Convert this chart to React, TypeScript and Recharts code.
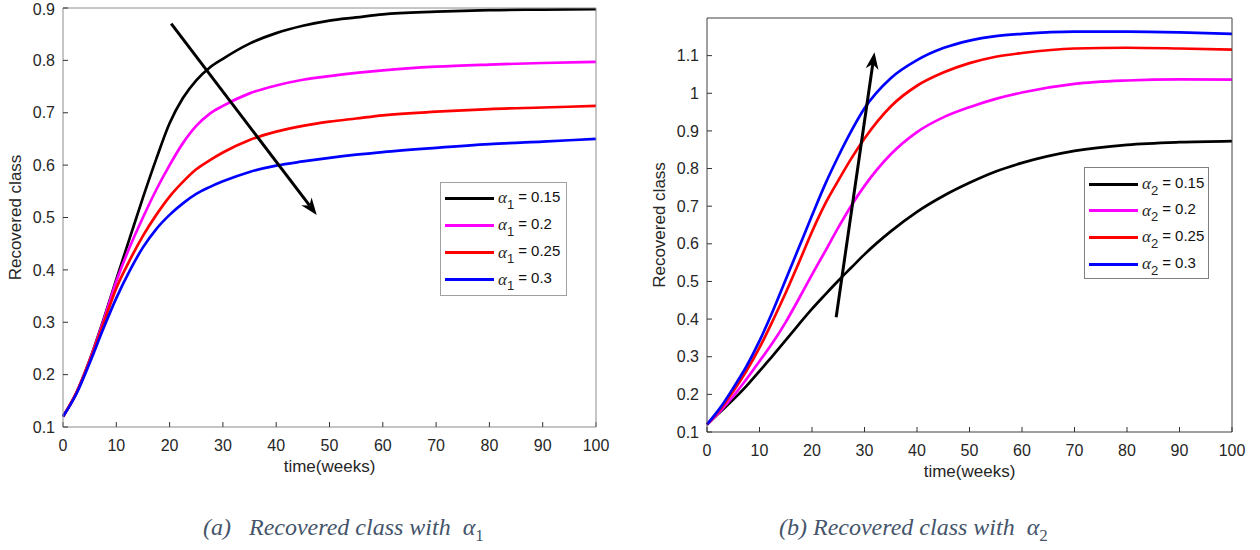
import React from "react"
import { LineChart, Line, XAxis, YAxis, ReferenceLine, Legend } from "recharts"

// time points (weeks)
const weeks = [0, 2.5, 5, 7.5, 10, 12.5, 15, 17.5, 20, 22.5, 25, 27.5, 30, 35, 40, 45, 50, 55, 60, 70, 80, 90, 100]

// panel (a): varying alpha_1
const alpha1Labels = ["0.15", "0.2", "0.25", "0.3"]
const a1_015 = [0.12, 0.165, 0.228, 0.302, 0.382, 0.46, 0.538, 0.612, 0.68, 0.728, 0.762, 0.786, 0.803, 0.832, 0.852, 0.866, 0.876, 0.882, 0.888, 0.893, 0.896, 0.897, 0.898]
const a1_020 = [0.12, 0.165, 0.227, 0.3, 0.378, 0.443, 0.5, 0.553, 0.6, 0.642, 0.675, 0.698, 0.713, 0.737, 0.752, 0.763, 0.77, 0.776, 0.781, 0.788, 0.792, 0.795, 0.797]
const a1_025 = [0.12, 0.165, 0.226, 0.295, 0.365, 0.418, 0.465, 0.505, 0.54, 0.568, 0.592, 0.609, 0.624, 0.648, 0.664, 0.675, 0.683, 0.689, 0.695, 0.702, 0.707, 0.71, 0.713]
const a1_030 = [0.12, 0.163, 0.222, 0.286, 0.346, 0.398, 0.443, 0.478, 0.505, 0.527, 0.545, 0.558, 0.569, 0.587, 0.599, 0.607, 0.614, 0.62, 0.625, 0.633, 0.64, 0.645, 0.65]

// panel (b): varying alpha_2
const alpha2Labels = ["0.15", "0.2", "0.25", "0.3"]
const a2_015 = [0.12, 0.153, 0.186, 0.222, 0.262, 0.302, 0.344, 0.386, 0.427, 0.465, 0.502, 0.537, 0.572, 0.633, 0.685, 0.727, 0.762, 0.792, 0.815, 0.847, 0.863, 0.87, 0.873]
const a2_020 = [0.12, 0.155, 0.195, 0.24, 0.288, 0.337, 0.392, 0.454, 0.518, 0.58, 0.643, 0.702, 0.754, 0.838, 0.897, 0.936, 0.963, 0.985, 1.002, 1.025, 1.034, 1.037, 1.036]
const a2_025 = [0.12, 0.16, 0.208, 0.262, 0.324, 0.395, 0.47, 0.55, 0.632, 0.706, 0.768, 0.827, 0.88, 0.965, 1.02, 1.055, 1.08, 1.097, 1.107, 1.119, 1.121, 1.119, 1.116]
const a2_030 = [0.12, 0.164, 0.217, 0.274, 0.342, 0.42, 0.505, 0.59, 0.675, 0.758, 0.832, 0.9, 0.96, 1.04, 1.088, 1.12, 1.14, 1.152, 1.158, 1.164, 1.164, 1.162, 1.158]

const xTicks = [0, 10, 20, 30, 40, 50, 60, 70, 80, 90, 100]
const yTicksA = [0.1, 0.2, 0.3, 0.4, 0.5, 0.6, 0.7, 0.8, 0.9]
const yTicksB = [0.1, 0.2, 0.3, 0.4, 0.5, 0.6, 0.7, 0.8, 0.9, 1, 1.1]

// arrow annotations in data units [start, tip]
const arrowA = [{ x: 20.3, y: 0.87 }, { x: 47.6, y: 0.505 }]
const arrowB = [{ x: 24.6, y: 0.405 }, { x: 31.9, y: 1.109 }]

const seriesColors = ["#000000", "#ff00ff", "#ff0000", "#0000ff"]
const SANS = "'Liberation Sans', Arial, sans-serif"

type Row = { t: number; s0: number; s1: number; s2: number; s3: number }

function buildRows(s0: number[], s1: number[], s2: number[], s3: number[]): Row[] {
  return weeks.map((t, i) => ({ t, s0: s0[i], s1: s1[i], s2: s2[i], s3: s3[i] }))
}

const dataA = buildRows(a1_015, a1_020, a1_025, a1_030)
const dataB = buildRows(a2_015, a2_020, a2_025, a2_030)

const fmt = (v: number) => String(Number(v.toFixed(1)))

function ArrowShape(props: any) {
  const { x1, y1, x2, y2 } = props
  if (x1 == null || x2 == null) return null
  const dx = x2 - x1
  const dy = y2 - y1
  const len = Math.hypot(dx, dy)
  const ux = dx / len
  const uy = dy / len
  const nx = -uy
  const ny = ux
  const hl = 17
  const hw = 6.5
  const bx = x2 - ux * hl
  const by = y2 - uy * hl
  const kx = x2 - ux * hl * 0.7
  const ky = y2 - uy * hl * 0.7
  const pts = `${x2},${y2} ${bx + nx * hw},${by + ny * hw} ${kx},${ky} ${bx - nx * hw},${by - ny * hw}`
  return (
    <g>
      <line x1={x1} y1={y1} x2={kx} y2={ky} stroke="#000" strokeWidth={3} />
      <polygon points={pts} fill="#000" />
    </g>
  )
}

function YTitle({ viewBox, offsetX }: { viewBox?: any; offsetX: number }) {
  if (!viewBox) return null
  const x = viewBox.x + offsetX
  const y = viewBox.y + viewBox.height / 2
  return (
    <text x={x} y={y} transform={`rotate(-90 ${x} ${y})`} textAnchor="middle" dominantBaseline="middle"
      fontFamily={SANS} fontSize={17} fill="#262626">
      Recovered class
    </text>
  )
}

function XTitle({ viewBox, offsetY }: { viewBox?: any; offsetY: number }) {
  if (!viewBox) return null
  return (
    <text x={viewBox.x + viewBox.width / 2} y={viewBox.y + offsetY} textAnchor="middle"
      fontFamily={SANS} fontSize={17} fill="#262626">
      time(weeks)
    </text>
  )
}

function AlphaLegend({ payload, sub, border, rowTop, rowGap, width, height }: any) {
  return (
    <div style={{ position: "relative", width, height, border: `1px solid ${border}`, background: "#fff", boxSizing: "border-box" }}>
      {(payload || []).map((p: any, i: number) => (
        <div key={i} style={{ position: "absolute", left: 4, top: rowTop + i * rowGap - 10, height: 20, display: "flex", alignItems: "center", whiteSpace: "nowrap" }}>
          <span style={{ display: "inline-block", width: 49, height: 3, background: p.color }} />
          <span style={{ marginLeft: 4, fontFamily: "'Liberation Serif', serif", fontStyle: "italic", fontSize: 17, color: "#262626" }}>α</span>
          <span style={{ fontFamily: SANS, fontSize: 13, color: "#262626", position: "relative", top: 6 }}>{sub}</span>
          <span style={{ fontFamily: SANS, fontSize: 15, color: "#111", marginLeft: 4, position: "relative", top: -2 }}>= {p.value}</span>
        </div>
      ))}
    </div>
  )
}

type PanelProps = {
  left: number
  width: number
  data: Row[]
  labels: string[]
  sub: string
  yDomain: [number, number]
  yTicks: number[]
  margin: { top: number; right: number; bottom: number; left: number }
  yAxisWidth: number
  axisColor: string
  arrow: { x: number; y: number }[]
  legendPos: { left: number; top: number; width: number; height: number; rowTop: number; rowGap: number; border: string }
  titleX: number
  titleY: number
}

function Panel(p: PanelProps) {
  const tickStyle = { fill: "#262626", fontSize: 16, fontFamily: SANS }
  return (
    <div style={{ position: "absolute", left: p.left, top: 0 }}>
      <LineChart width={p.width} height={500} data={p.data} margin={p.margin}>
        <XAxis dataKey="t" type="number" domain={[0, 100]} ticks={xTicks} tick={tickStyle} tickSize={-5} tickMargin={18}
          axisLine={{ stroke: p.axisColor }} tickLine={{ stroke: "#333" }} height={50}
          label={<XTitle offsetY={p.titleY} />} />
        <XAxis xAxisId="top" orientation="top" dataKey="t" type="number" domain={[0, 100]} ticks={xTicks} tick={false}
          tickSize={-5} axisLine={{ stroke: p.axisColor }} tickLine={{ stroke: "#333" }} height={2} />
        <YAxis type="number" domain={p.yDomain} ticks={p.yTicks} tick={tickStyle} tickFormatter={fmt} tickSize={-5}
          tickMargin={13} axisLine={{ stroke: p.axisColor }} tickLine={{ stroke: "#333" }} width={p.yAxisWidth}
          allowDataOverflow label={<YTitle offsetX={p.titleX} />} />
        <YAxis yAxisId="right" orientation="right" type="number" domain={p.yDomain} ticks={p.yTicks} tick={false}
          tickSize={-5} axisLine={{ stroke: p.axisColor }} tickLine={{ stroke: "#333" }} width={10} />
        {p.labels.map((lab, i) => (
          <Line key={lab} type="monotone" dataKey={`s${i}`} name={lab} stroke={seriesColors[i]} strokeWidth={2.7}
            dot={false} activeDot={false} isAnimationActive={false} />
        ))}
        <ReferenceLine segment={p.arrow} stroke="#000" shape={(props: any) => <ArrowShape {...props} />} />
        <Legend layout="vertical" align="center" verticalAlign="middle"
          wrapperStyle={{ left: p.legendPos.left, top: p.legendPos.top, width: p.legendPos.width, height: p.legendPos.height }}
          content={(props: any) => (
            <AlphaLegend payload={props.payload} sub={p.sub} border={p.legendPos.border} rowTop={p.legendPos.rowTop}
              rowGap={p.legendPos.rowGap} width={p.legendPos.width} height={p.legendPos.height} />
          )} />
      </LineChart>
    </div>
  )
}

export default function App() {
  const captionStyle: React.CSSProperties = {
    position: "absolute",
    top: 514,
    fontFamily: "'Liberation Serif', 'Times New Roman', serif",
    fontStyle: "italic",
    fontSize: 24,
    color: "#44546a",
    whiteSpace: "pre",
  }
  return (
    <div style={{ position: "absolute", left: 0, top: 0, width: 1260, height: 550, background: "#fff" }}>
      <Panel left={0} width={640} data={dataA} labels={alpha1Labels} sub="1" yDomain={[0.1, 0.9]} yTicks={yTicksA}
        margin={{ top: 6, right: 34, bottom: 23, left: 0 }} yAxisWidth={63} axisColor="#8c8c8c" arrow={arrowA}
        legendPos={{ left: 440, top: 182, width: 127, height: 114, rowTop: 15, rowGap: 27.3, border: "#a0a0a0" }}
        titleX={17} titleY={45} />
      <Panel left={640} width={620} data={dataB} labels={alpha2Labels} sub="2" yDomain={[0.1, 1.2]} yTicks={yTicksB}
        margin={{ top: 16, right: 18, bottom: 18, left: 0 }} yAxisWidth={67} axisColor="#404040" arrow={arrowB}
        legendPos={{ left: 444, top: 167, width: 125, height: 112, rowTop: 16, rowGap: 26.7, border: "#808080" }}
        titleX={21} titleY={45} />
      <div style={{ ...captionStyle, left: 203 }}>
        {"(a)   Recovered class with  α"}<sub style={{ fontStyle: "normal", fontSize: 17 }}>1</sub>
      </div>
      <div style={{ ...captionStyle, left: 779 }}>
        {"(b) Recovered class with  α"}<sub style={{ fontStyle: "normal", fontSize: 17 }}>2</sub>
      </div>
    </div>
  )
}
